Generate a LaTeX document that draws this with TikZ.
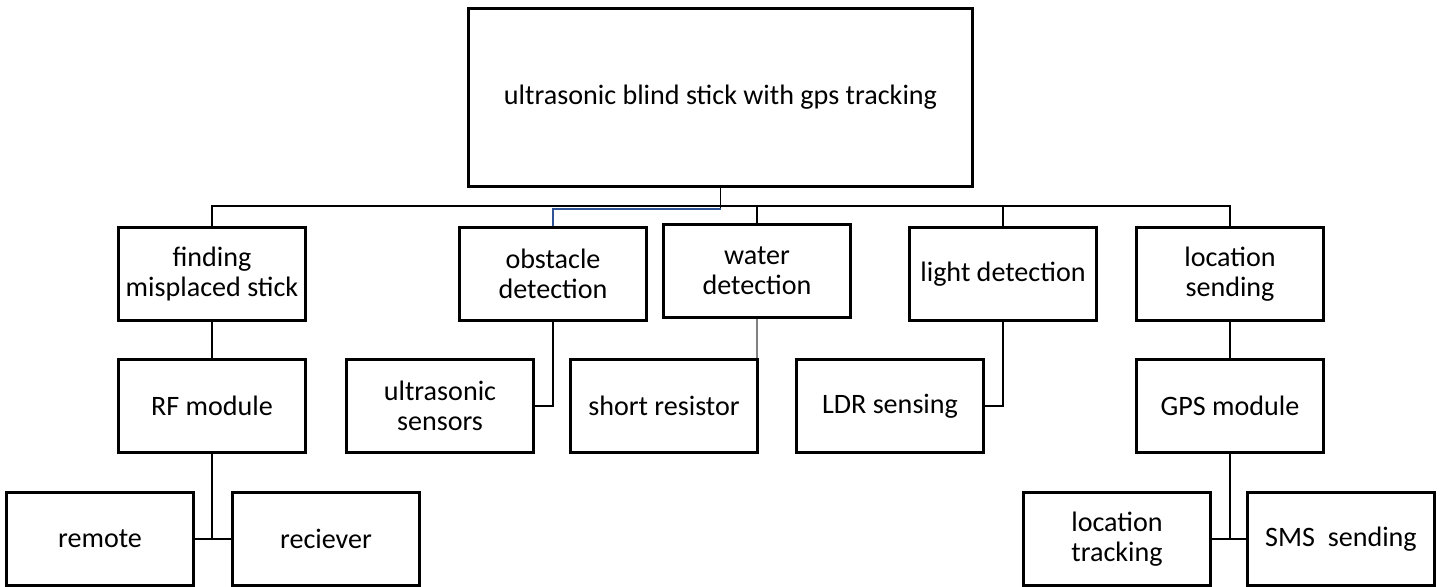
\documentclass[tikz,border=0pt]{standalone}
\usepackage{fontspec}
\setmainfont{Carlito}
\definecolor{linkblue}{RGB}{47,84,150}
\begin{document}
\begin{tikzpicture}[x=0.02cm,y=-0.02cm,
		box/.style={draw,line width=1.7pt,minimum width=3.74cm,minimum height=1.86cm,
			align=center,inner sep=2pt,font=\fontsize{16}{17}\selectfont},
		link/.style={line width=0.6pt}]
		\useasboundingbox (0,0) rectangle (1440,586);
		\node[box,minimum width=10.1cm,minimum height=3.58cm] (top) at (720.5,97.5) {ultrasonic blind stick with gps tracking};
		% second row
		\node[box] (find) at (212,274) {finding\\misplaced stick};
		\node[box] (obst) at (553,274) {obstacle\\detection};
		\node[box] (water) at (757,271) {water\\detection};
		\node[box] (light) at (1003,274) {light detection};
		\node[box] (loc) at (1230,274) {location\\sending};
		% third row
		\node[box] (rf) at (212,406) {RF module};
		\node[box] (ultra) at (440,406) {ultrasonic\\sensors};
		\node[box] (short) at (664,406) {short resistor};
		\node[box] (ldr) at (890,406) {LDR sensing};
		\node[box] (gps) at (1230,406) {GPS module};
		% last row
		\node[box] (remote) at (100,539) {remote};
		\node[box] (recv) at (326,539) {reciever};
		\node[box] (loctr) at (1117,539) {location\\tracking};
		\node[box] (sms) at (1341,539) {SMS\ \ sending};
		\coordinate (bus) at (720.5,206);
		\coordinate (split) at (720.5,209);
		\draw[link] (top.south) -- (split);
		\draw[link] (find.north) |- (bus) -| (loc.north);
		\draw[link] (water.north) -- (water.north |- bus);
		\draw[link] (light.north) -- (light.north |- bus);
		\draw[link,linkblue] (split) -| (obst.north);
		\draw[link] (find) -- (rf);
		\draw[link] (obst.south) |- (ultra.east);
		\draw[link,gray] (water.south) -- (water.south |- short.north);
		\draw[link] (light.south) |- (ldr.east);
		\draw[link] (loc) -- (gps);
		\draw[link] (rf.south) -- (rf.south |- remote.east);
		\draw[link] (remote) -- (recv);
		\draw[link] (gps.south) -- (gps.south |- sms.west);
		\draw[link] (loctr) -- (sms);
	\end{tikzpicture}
\end{document}
